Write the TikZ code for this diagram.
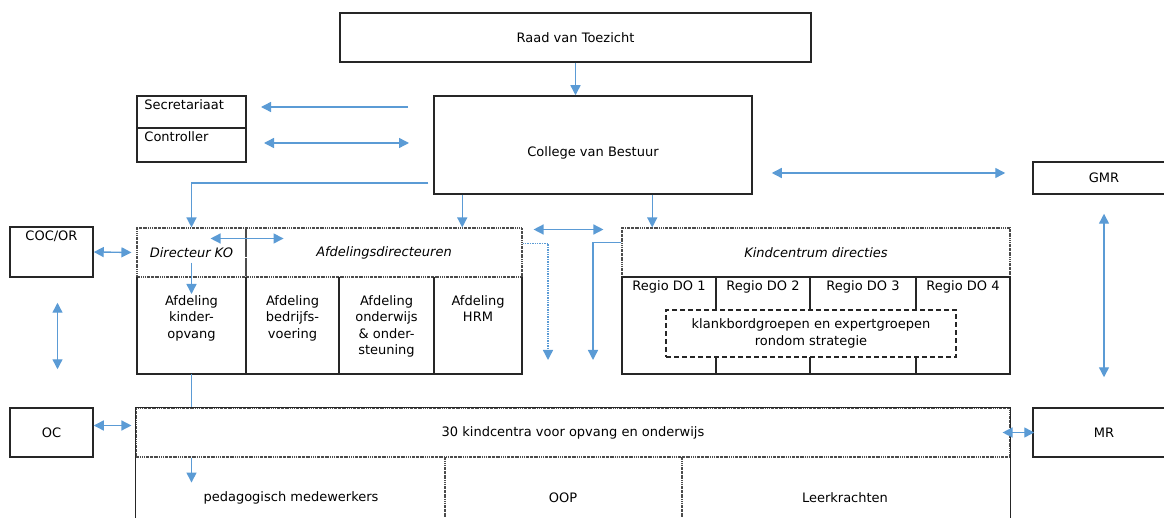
\documentclass[tikz,border=0pt]{standalone}
\usepackage{fontspec}
\setmainfont{DejaVu Sans}
\usetikzlibrary{arrows.meta}
\definecolor{lijn}{RGB}{91,155,213}

\begin{document}
\begin{tikzpicture}[x=1pt,y=-1pt,font=\fontsize{13}{16.5}\selectfont,
  box/.style={draw=black!85,line width=1.5pt,inner sep=0pt},
  hdr/.style={draw=black!70,line width=1.1pt,dash pattern=on 1.6pt off 0.8pt on 0.6pt off 0.8pt,inner sep=0pt},
  frame/.style={draw=black!85,line width=1.5pt},
  pijl/.style={lijn,line width=1.4pt,-{Triangle[length=10pt,width=10pt]}},
  dpijl/.style={lijn,line width=1.4pt,{Triangle[length=10pt,width=10pt]}-{Triangle[length=10pt,width=10pt]}},
  tekst/.style={inner sep=1pt,align=center}]
\useasboundingbox (0,0) rectangle (1164,518);
\node[box,minimum width=471pt,minimum height=49pt] (rvt) at (575.5,37.5) {Raad van Toezicht};
\node[box,minimum width=318pt,minimum height=98pt,label={[yshift=-8pt]center:College van Bestuur}] (cvb) at (593,145) {};
\node[box,minimum width=109pt,minimum height=32pt,label={[anchor=north west,inner xsep=8pt,inner ysep=4pt]north west:Secretariaat}] (sec) at (191.5,112) {};
\node[box,minimum width=109pt,minimum height=34pt,label={[anchor=north west,inner xsep=8pt,inner ysep=4pt]north west:Controller}] (ctl) at (191.5,145) {};
\node[box,minimum width=142pt,minimum height=32pt] (gmr) at (1104,178) {GMR};
\node[box,minimum width=83pt,minimum height=50pt,label={[anchor=north,inner sep=4pt]north:COC/OR}] (coc) at (51.5,252) {};
\node[box,minimum width=83pt,minimum height=49pt] (oc) at (51.5,432.5) {OC};
\node[box,minimum width=142pt,minimum height=49pt] (mr) at (1104,432.5) {MR};

\node[hdr,minimum width=109pt,minimum height=49pt] (dko) at (191.5,252.5) {\itshape Directeur KO};
\node[hdr,minimum width=276pt,minimum height=49pt] (adir) at (384,252.5) {\itshape Afdelingsdirecteuren};
\node[minimum width=385pt,minimum height=97pt] (afd) at (329.5,325.5) {};
\draw[frame] (afd.north west) -- (afd.south west) -- (afd.south east) -- (afd.north east);
\foreach \x in {246,339,434} \draw[frame] (\x,277) -- (\x,374);
\node[tekst,anchor=north] (afd1) at (191.5,294) {Afdeling\\kinder-\\opvang};
\node[tekst,anchor=north] (afd2) at (292.5,294) {Afdeling\\bedrijfs-\\voering};
\node[tekst,anchor=north] (afd3) at (386.5,294) {Afdeling\\onderwijs\\\& onder-\\steuning};
\node[tekst,anchor=north] (afd4) at (478,294) {Afdeling\\HRM};

\node[hdr,minimum width=388pt,minimum height=49pt] (kcd) at (816,252.5) {\itshape Kindcentrum directies};
\node[box,minimum width=388pt,minimum height=97pt] (kcb) at (816,325.5) {};
\foreach \x in {716,810,916} \draw[frame] (\x,277) -- (\x,310) (\x,357) -- (\x,374);
\foreach \x/\n in {669/1,763/2,863/3,963/4} \node[tekst] (r\n) at (\x,287) {Regio DO \n};
\node[draw=black!85,line width=1.4pt,dash pattern=on 5pt off 3pt,minimum width=290pt,minimum height=47pt,align=center] (kbg) at (811,333.5) {klankbordgroepen en expertgroepen\\rondom strategie};

\node[hdr,minimum width=874pt,minimum height=49pt] (kc30) at (573,432.5) {30 kindcentra voor opvang en onderwijs};
\draw[frame] (kc30.south west) -- (kc30.north west) -- (kc30.north east) -- (kc30.south east);
\draw[frame] (kc30.south west) -- ++(0,80) (kc30.south east) -- ++(0,80);
\foreach \x in {445,682} \draw[hdr] (\x,457) -- (\x,530);
\node[tekst] (ped) at (291,498) {pedagogisch medewerkers};
\node[tekst] (oop) at (563,498) {OOP};
\node[tekst] (lk) at (845,498) {Leerkrachten};

\coordinate (sA) at (408,107);
\coordinate (sB) at (261,107);
\coordinate (cA) at (264,143);
\coordinate (cB) at (409,143);
\coordinate (c1) at ([xshift=29pt]cvb.south west);
\coordinate (c2) at ([xshift=219pt]cvb.south west);
\coordinate (g1) at ([yshift=5pt]gmr.west);
\coordinate (d1) at ([yshift=14pt]dko.east);
\coordinate (e1) at (548,360);
\coordinate (e2) at (593,360);
\draw[pijl] (rvt.south) -- (rvt.south |- cvb.north);
\draw[pijl] (sA) -- (sB);
\draw[dpijl] (cA) -- (cB);
\draw[pijl] ([xshift=-5pt,yshift=-38pt]cvb.west) -| (dko.north);
\draw[pijl] (c1) -- (c1 |- adir.north);
\draw[pijl] (c2) -- (c2 |- kcd.north);
\draw[dpijl,shorten <=19pt,shorten >=27pt] (cvb.east |- g1) -- (g1);
\draw[dpijl,shorten <=19pt,shorten >=30pt] (gmr.south) -- (mr.north);
\draw[dpijl,shorten >=5pt] (coc.east) -- (dko.west);
\draw[dpijl,shorten <=25pt,shorten >=38pt] ([xshift=6pt]coc.south) -- ([xshift=6pt]oc.north);
\draw[dpijl] ([xshift=-36pt]d1) -- ([xshift=37pt]d1);
\draw[pijl] ([yshift=15pt]dko.south) -- (afd1.north);
\draw[lijn,line width=1.4pt] (afd1 |- afd.south) -- (afd1 |- kc30.north);
\draw[pijl] (afd1 |- kc30.south) -- ++(0,25);
\draw[dpijl,shorten >=4pt] ([yshift=7pt]oc.east) -- ([yshift=7pt]kc30.west);
\draw[dpijl,shorten <=-8pt,shorten >=-2pt] (kc30.east) -- (mr.west);
\draw[dpijl,shorten <=11pt,shorten >=18pt] ([yshift=23pt]adir.east) -- ([yshift=23pt]kcd.west);
\draw[pijl,densely dotted] ([yshift=9pt]adir.east) -| (e1);
\draw[pijl] ([yshift=10pt]kcd.west) -| (e2);
\end{tikzpicture}
\end{document}
